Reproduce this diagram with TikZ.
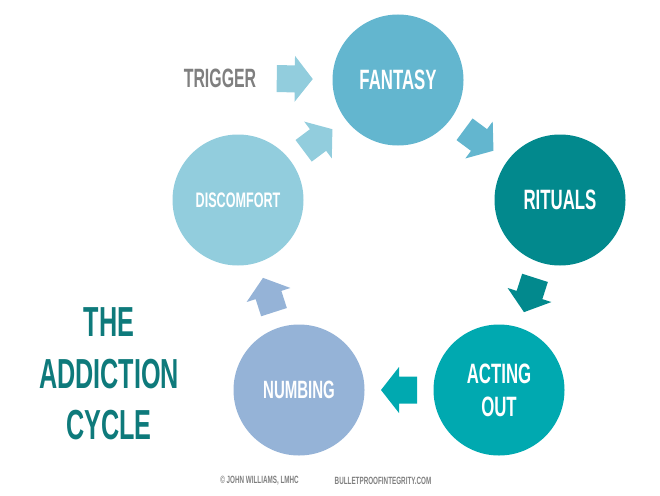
\documentclass[tikz,border=0pt]{standalone}
\usepackage{fontspec}
\newfontfamily\condfont[FakeStretch=0.6]{Liberation Sans}
\usepackage{tikz}
\usetikzlibrary{calc}

\definecolor{FantasyBlue}{HTML}{63B6CF}
\definecolor{RitualTeal}{HTML}{02898D}
\definecolor{ActingTeal}{HTML}{00A9B0}
\definecolor{NumbBlue}{HTML}{95B3D7}
\definecolor{DiscomfortBlue}{HTML}{92CDDD}
\definecolor{TitleTeal}{HTML}{0E7A7B}
\definecolor{LabelGray}{HTML}{7F7F7F}

% fat arrow between two stages: [position]{from}{to}{colour}
\newcommand{\cyclearrow}[4][0.5]{%
  \coordinate (m) at ($(#2)!#1!(#3)$);
  \coordinate (tip) at ($(m)!18pt!(#3)$);
  \coordinate (tail) at ($(m)!-18pt!(#3)$);
  \coordinate (neck) at ($(tip)!18pt!(tail)$);
  \fill[#4] ($(tail)!13.5pt!90:(tip)$) -- ($(neck)!13.5pt!90:(tip)$)
    -- ($(neck)!23pt!90:(tip)$) -- (tip) -- ($(neck)!23pt!-90:(tip)$)
    -- ($(neck)!13.5pt!-90:(tip)$) -- ($(tail)!13.5pt!-90:(tip)$) -- cycle;
}

\begin{document}
\begin{tikzpicture}[x=1pt, y=-1pt,
  stage/.style={circle, minimum size=131pt, inner sep=0pt, text=white,
    align=center, font=\condfont\bfseries\fontsize{28}{33}\selectfont},
  footer/.style={text=LabelGray, font=\condfont\bfseries\fontsize{10.5}{12}\selectfont}]
  \useasboundingbox (0,0) rectangle (660,495);

  % Stages of the cycle
  \node[stage, fill=FantasyBlue] (fantasy) at (398,80) {FANTASY};
  \node[stage, fill=RitualTeal] (rituals) at (560,200) {RITUALS};
  \node[stage, fill=ActingTeal] (acting) at (499,390) {ACTING\\OUT};
  \node[stage, fill=NumbBlue] (numbing) at (299,390)
    {\fontsize{25}{30}\selectfont NUMBING};
  \node[stage, fill=DiscomfortBlue] (discomfort) at (238,200)
    {\fontsize{21}{25}\selectfont DISCOMFORT};

  % Trigger
  \node[text=LabelGray, font=\condfont\bfseries\fontsize{26.5}{30}\selectfont]
    (trigger) at (220,78) {TRIGGER};

  % Arrows
  \cyclearrow[0.42]{trigger}{fantasy}{DiscomfortBlue}
  \cyclearrow{fantasy}{rituals}{FantasyBlue}
  \cyclearrow{rituals}{acting}{RitualTeal}
  \cyclearrow{acting}{numbing}{ActingTeal}
  \cyclearrow{numbing}{discomfort}{NumbBlue}
  \cyclearrow{discomfort}{fantasy}{DiscomfortBlue}

  % Title
  \node[text=TitleTeal, align=center,
    font=\condfont\bfseries\fontsize{42}{51.5}\selectfont]
    (title) at (109,374) {THE\\ADDICTION\\CYCLE};

  % Footer
  \node[footer] (author) at (259.5,481) {© JOHN WILLIAMS, LMHC};
  \node[footer] (site) at (383,481) {BULLETPROOFINTEGRITY.COM};
\end{tikzpicture}
\end{document}
